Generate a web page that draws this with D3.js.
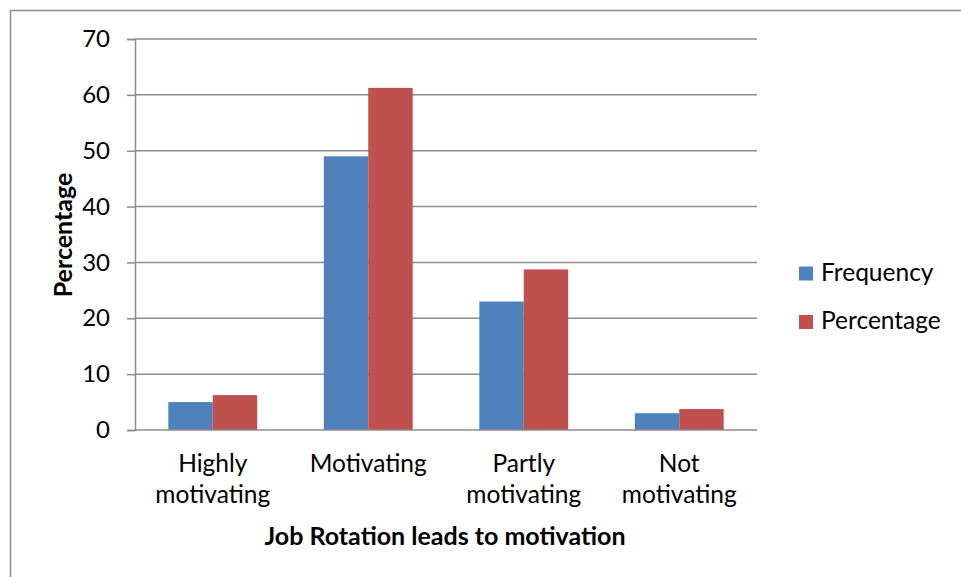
<!DOCTYPE html>
<html>
<head>
<meta charset="utf-8">
<script src="https://cdn.jsdelivr.net/npm/d3@7"></script>
<style>
  html, body { margin: 0; padding: 0; background: #fff; }
  svg { display: block; }
  text { font-family: Lato, "Open Sans", sans-serif; fill: #000; }
</style>
</head>
<body>
<svg id="chart" width="961" height="577"></svg>
<script>
// Job rotation survey: responses per category and their share of the total
const categories = [["Highly", "motivating"], ["Motivating"], ["Partly", "motivating"], ["Not", "motivating"]];
const seriesNames = ["Frequency", "Percentage"];
const frequency = [5, 49, 23, 3];
const percentage = [6.25, 61.25, 28.75, 3.75];
const yTicks = [0, 10, 20, 30, 40, 50, 60, 70];
const colors = ["#4F81BD", "#C0504D"];

const svg = d3.select("#chart");

// outer chart frame
svg.append("rect")
  .attr("x", 10.5).attr("y", 10.5)
  .attr("width", 960).attr("height", 600)
  .attr("fill", "none").attr("stroke", "#8c8c8c").attr("stroke-width", 1.5);

const plot = { left: 135, right: 757, top: 39, bottom: 430 };

const x0 = d3.scaleBand()
  .domain(d3.range(categories.length))
  .range([plot.left, plot.right])
  .paddingInner(0).paddingOuter(0);

// gap between groups is 150% of one bar width
const barW = x0.bandwidth() / (2 + 1.5);
const x1 = d3.scaleBand().domain([0, 1]).range([0, barW * 2]);

const y = d3.scaleLinear().domain([0, 70]).range([plot.bottom, plot.top]);

// horizontal gridlines
svg.append("g")
  .selectAll("line")
  .data(yTicks.filter(t => t > 0))
  .join("line")
  .attr("x1", plot.left).attr("x2", plot.right)
  .attr("y1", d => y(d)).attr("y2", d => y(d))
  .attr("stroke", "#8c8c8c").attr("stroke-width", 1.5);

// y axis
const yAxis = svg.append("g")
  .attr("transform", `translate(${plot.left},0)`)
  .call(d3.axisLeft(y).tickValues(yTicks).tickSize(8).tickPadding(17).tickFormat(d3.format("d")));
yAxis.select(".domain").attr("stroke", "#8c8c8c").attr("stroke-width", 1.5);
yAxis.selectAll(".tick line").attr("stroke", "#8c8c8c").attr("stroke-width", 1.5);
yAxis.selectAll(".tick text")
  .style("font-family", "Lato, sans-serif").style("font-size", "24px").attr("fill", "#000");

// bars
const groups = svg.append("g")
  .selectAll("g")
  .data(categories.map((c, i) => ({ i, values: [frequency[i], percentage[i]] })))
  .join("g")
  .attr("transform", d => `translate(${x0(d.i) + (x0.bandwidth() - barW * 2) / 2},0)`);

groups.selectAll("rect")
  .data(d => d.values.map((v, k) => ({ v, k })))
  .join("rect")
  .attr("x", d => x1(d.k))
  .attr("width", x1.bandwidth())
  .attr("y", d => y(d.v))
  .attr("height", d => y(0) - y(d.v))
  .attr("fill", d => colors[d.k]);

// x axis baseline
svg.append("line")
  .attr("x1", plot.left).attr("x2", plot.right)
  .attr("y1", y(0)).attr("y2", y(0))
  .attr("stroke", "#8c8c8c").attr("stroke-width", 1.5);

// category labels
const catLabels = svg.append("g")
  .selectAll("text")
  .data(categories.map((c, i) => ({ c, i })))
  .join("text")
  .attr("x", d => x0(d.i) + x0.bandwidth() / 2)
  .attr("y", 472)
  .attr("text-anchor", "middle")
  .style("font-size", "24.5px");
catLabels.selectAll("tspan")
  .data(d => d.c.map((line, k) => ({ line, k, x: x0(d.i) + x0.bandwidth() / 2 })))
  .join("tspan")
  .attr("x", d => d.x)
  .attr("dy", d => d.k === 0 ? 0 : 31)
  .text(d => d.line);

// axis titles
svg.append("text")
  .attr("x", (plot.left + plot.right) / 2 - 1)
  .attr("y", 545)
  .attr("text-anchor", "middle")
  .style("font-size", "25px").style("font-weight", "bold")
  .text("Job Rotation leads to motivation");

svg.append("text")
  .attr("transform", "translate(72,235) rotate(-90)")
  .attr("text-anchor", "middle")
  .style("font-size", "25px").style("font-weight", "bold")
  .text("Percentage");

// legend
const legend = svg.append("g")
  .selectAll("g")
  .data(seriesNames.map((n, k) => ({ n, k })))
  .join("g")
  .attr("transform", d => `translate(799,${266.5 + d.k * 48.5})`);
legend.append("rect")
  .attr("width", 14).attr("height", 14)
  .attr("fill", d => colors[d.k]);
legend.append("text")
  .attr("x", 22).attr("y", 14)
  .style("font-size", "24.5px")
  .text(d => d.n);
</script>
</body>
</html>
